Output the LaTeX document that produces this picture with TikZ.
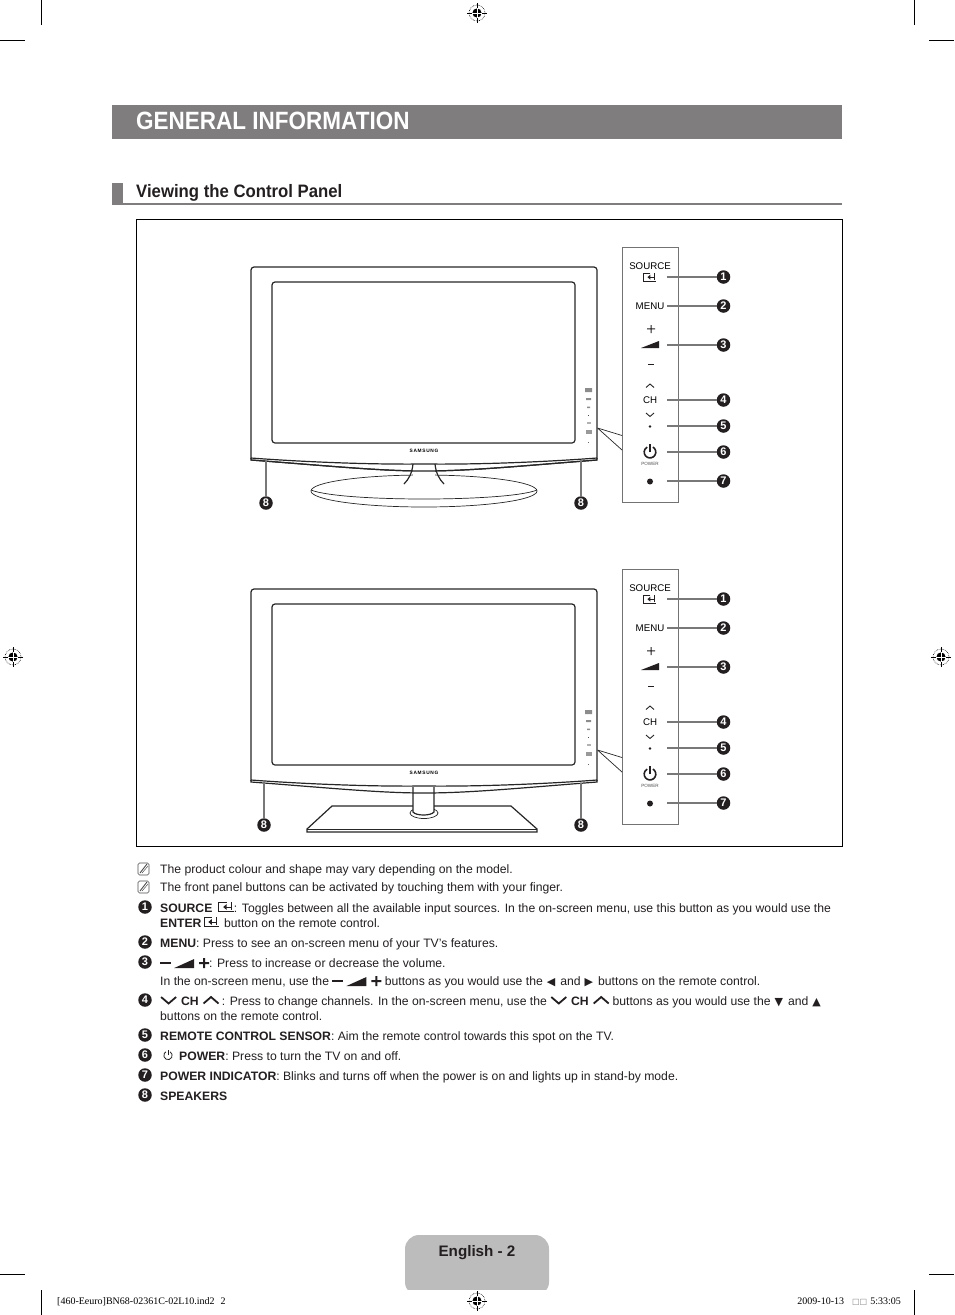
\documentclass[tikz,border=0pt]{standalone}
\usepackage{fontspec}
\setmainfont{Liberation Sans}
\newfontfamily\symfont{DejaVu Sans}
\newfontfamily\printfont{Liberation Serif}
\newfontfamily\titlefont[FakeStretch=0.90]{Liberation Sans}
\newfontfamily\sectionfont[FakeStretch=0.93]{Liberation Sans}
\newfontfamily\logofont[LetterSpace=14]{Liberation Sans}
\usepackage{tikz}
\usetikzlibrary{arrows.meta, positioning, calc}
\definecolor{bargray}{RGB}{127,125,126}
\definecolor{tabgray}{RGB}{188,188,188}
\definecolor{inkblack}{RGB}{35,31,32}
\definecolor{leadgray}{RGB}{120,120,120}
\newcommand{\wedgeic}{\tikz[x=1pt,y=1pt,baseline=0pt]\fill[inkblack] (0,-1)--(20,-1)--(20,8)--cycle;}
\newcommand{\minusic}{\tikz[x=1pt,y=1pt,baseline=0pt]\fill[inkblack] (0,3)--(11,3)--(11,4.8)--(0,4.8)--cycle;}
\newcommand{\plusic}{\tikz[x=1pt,y=1pt,baseline=0pt]\fill[inkblack] (0,3)--(4,3)--(4,-1)--(6,-1)--(6,3)--(10,3)--(10,5)--(6,5)--(6,9)--(4,9)--(4,5)--(0,5)--cycle;}
\newcommand{\downic}{\tikz[x=1pt,y=1pt,baseline=0pt]\draw[line width=1.8pt,inkblack] (0,8)--(7.5,1.5)--(15,8);}
\newcommand{\upic}{\tikz[x=1pt,y=1pt,baseline=0pt]\draw[line width=1.8pt,inkblack] (0,1.5)--(7.5,8)--(15,1.5);}
\newcommand{\enteric}{\tikz[x=1pt,y=1pt,baseline=-0.5pt]{\draw[line width=0.6pt,inkblack] (8,9)--(0,9)--(0,0)--(15,0);\draw[line width=0.8pt,inkblack] (5,4.5)--(13,4.5) (13,9.5)--(13,1.5);\fill[inkblack] (4.5,4.5)--(8,7.5)--(8,1.5)--cycle;}}
\newcommand{\poweric}[2]{\tikz[x=1pt,y=1pt,baseline=0pt]{\draw[line width=#2pt,inkblack] (60:#1) arc[start angle=60,end angle=-240,radius=#1pt];\draw[line width=#2pt,inkblack] (0,0)--(0,#1*1.35);}}
\newcommand{\keyglyph}[1]{\hspace{4pt}{\symfont\fontsize{11}{11}\selectfont #1}\hspace{5pt}}
\tikzset{
	txt/.style={anchor=base west,inner sep=0pt,text=inkblack,font=\fontsize{12.2}{13}\selectfont},
	numbadge/.style={circle,fill=inkblack,inner sep=0pt,minimum size=13.5pt,text=white,font=\fontsize{11}{11}\bfseries\selectfont},
	panellabel/.style={inner sep=0pt,text=black,font=\fontsize{9.7}{10}\selectfont},
	leadline/.style={draw=leadgray,line width=1.4pt},
	tvline/.style={draw=black!85,line width=1.2pt},
	thinline/.style={draw=black!85,line width=0.7pt},
	cropline/.style={draw=black,line width=0.6pt},
	regmark/.pic={
		\draw[line width=0.6pt,densely dotted] (0,0) circle (8);
		\fill (0,0) circle (4.6);
		\draw[line width=0.6pt] (-10,0)--(10,0) (0,-10)--(0,10);
		\draw[white,line width=0.6pt] (-4.6,0)--(4.6,0) (0,-4.6)--(0,4.6);
	}
}
\begin{document}
\begin{tikzpicture}[x=1pt,y=-1pt]
	\useasboundingbox (0,0) rectangle (954,1315);
	% crop marks
	\foreach \xa/\xb in {41/914}{
		\draw[cropline] (\xa,0)--(\xa,25) (\xb,0)--(\xb,25) (\xa,1290)--(\xa,1315) (\xb,1290)--(\xb,1315);
	}
	\draw[cropline] (0,40)--(25,40) (929,40)--(954,40) (0,1274)--(25,1274) (929,1274)--(954,1274);
	\foreach \mx/\my in {477/13, 13/657, 941/657, 477/1301}{
		\pic at (\mx,\my) {regmark};
	}
	% headings
	\fill[bargray] (112,105) rectangle (842,139);
	\node[anchor=base west,inner sep=0pt,text=white,font=\titlefont\fontsize{25}{26}\bfseries\selectfont] (title) at (136,129.5) {GENERAL INFORMATION};
	\fill[bargray] (112,183) rectangle (123,204.5);
	\draw[bargray,line width=1.5pt] (112,204)--(842,204);
	\node[anchor=base west,inner sep=0pt,text=inkblack,font=\sectionfont\fontsize{18}{19}\bfseries\selectfont] (section) at (136,197) {Viewing the Control Panel};
	\draw[black,line width=0.8pt] (136.5,219.5) rectangle (842.5,846.5);
	% the two sets
	\foreach \off/\set in {0/a,322/b}{
		\begin{scope}[yshift=-\off pt]
			\draw[tvline,rounded corners=3pt] (251,459)--(251,267)--(597,267)--(597,459);
			\draw[tvline,rounded corners=3pt] (272,443)--(272,282)--(575,282)--(575,443)--cycle;
			\draw[tvline] (251,458) .. controls (251,458) and (340,465) .. (424,464) .. controls (510,465) and (597,458) .. (597,458);
			\draw[tvline] (251,458) -- (251,460) .. controls (330,466) and (380,471) .. (424,471) .. controls (470,471) and (520,466) .. (597,460) -- (597,458);
			\node[inner sep=0pt,font=\logofont\fontsize{4.8}{5}\bfseries\selectfont] (logo\set) at (424,451) {SAMSUNG};
			% small keys on the bezel
			\fill[black!45] (585,388) rectangle (592,392) (586,398) rectangle (591,400) (587,406.5) rectangle (590,408);
			\fill[black!70] (587.5,414.5) rectangle (589,416);
			\fill[black!30] (586.5,422) rectangle (590.5,423.5);
			\fill[black!40] (585.5,430) rectangle (591.5,434);
			\fill[black!60] (587.5,442) rectangle (589,443);
			% control strip
			\draw[draw=black!55,line width=0.8pt] (622,247) rectangle (678,502);
			\draw[thinline] (597.5,428)--(622,435.5) (597.5,428)--(622,450);
			\node[panellabel] (source\set) at (650,266) {SOURCE};
			\node[panellabel] (enter\set) at (650,277) {\scalebox{0.85}{\enteric}};
			\node[panellabel] (menu\set) at (650,306.5) {MENU};
			\fill[inkblack] (647,328.4) rectangle (655,329.4) (650.5,325) rectangle (651.5,333);
			\fill[inkblack] (641,348)--(659,348)--(659,341)--cycle;
			\fill[inkblack] (647.5,364) rectangle (654,365);
			\draw[black!85,line width=0.9pt] (646,387.5)--(650,384)--(654,387.5) (646,413)--(650,416.5)--(654,413);
			\node[panellabel] (ch\set) at (650,400.5) {CH};
			\fill[inkblack] (650,426.5) circle (1.4);
			\node[inner sep=0pt] (pow\set) at (650,451.5) {\poweric{5.8}{1.6}};
			\node[inner sep=0pt,text=black!70,font=\fontsize{4.6}{5}\selectfont] (powlabel\set) at (650,464) {POWER};
			\fill[inkblack] (650,481.5) circle (3);
			\foreach \num/\yy in {1/277,2/306,3/345,4/400,5/426,6/452,7/481}{
				\coordinate (start\set\num) at (667,\yy);
				\node[numbadge] (num\set\num) at (723.5,\yy) {\num};
				\draw[leadline] (start\set\num)--(num\set\num);
			}
		\end{scope}
	}
	% stand of the upper set
	\draw[thinline,fill=white] (424,491) ellipse (113 and 16);
	\draw[thinline] (311,490) .. controls (340,502) and (508,502) .. (537,490);
	\fill[white] (413,465) rectangle (435,480);
	\draw[tvline] (413,464) .. controls (412,473) and (409,479) .. (404,484);
	\draw[tvline] (435,464) .. controls (436,473) and (439,479) .. (444,484);
	\draw[tvline] (251,460) .. controls (330,466) and (380,471) .. (424,471) .. controls (470,471) and (520,466) .. (597,460);
	% stand of the lower set
	\draw[tvline,fill=white] (332,806)--(511,806)--(537,829)--(537,832)--(307,832)--(307,829)--cycle;
	\draw[thinline] (307,829)--(537,829);
	\draw[thinline,fill=white] (424,813) ellipse (14 and 5.5);
	\fill[white] (413,794) rectangle (434,812);
	\draw[tvline] (413,787)--(413,812) .. controls (416,816) and (431,816) .. (434,812) -- (434,787);
	% speakers
	\foreach \xx/\yy/\set in {266/461/p,581/461/q,264/783/r,581/783/s}{
		\coordinate (spk\set) at (\xx,\yy);
		\node[numbadge] (spknum\set) at (\xx,\yy+42) {8};
		\draw[leadgray,line width=1.1pt] (spk\set)--(spknum\set);
	}
	% notes
	\foreach \yy in {869,887}{
		\draw[black!70,line width=0.6pt,rounded corners=1.5pt] (138,\yy-6)rectangle(149,\yy+6);
		\draw[black!70,line width=0.9pt] (140,\yy+4)--(147,\yy-5);
		\draw[black!70,line width=0.5pt] (142,\yy+4)--(148,\yy-3);
	}
	\node[txt] (note1) at (160,873.5) {The product colour and shape may vary depending on the model.};
	\node[txt] (note2) at (160,891.5) {The front panel buttons can be activated by touching them with your finger.};
	% list
	\foreach \num/\yy in {1/907,2/942,3/962,4/1000,5/1035,6/1055,7/1075,8/1095}{
		\node[numbadge] (item\num) at (145,\yy) {\num};
	}
	\node[txt] (line1) at (160,912) {\textbf{SOURCE}\hspace{6pt}\enteric: Toggles between all the available input sources. In the on-screen menu, use this button as you would use the};
	\node[txt] (line1b) at (160,927) {\textbf{ENTER}\hspace{2pt}\enteric\hspace{5pt}button on the remote control.};
	\node[txt] (line2) at (160,947) {\textbf{MENU}: Press to see an on-screen menu of your TV’s features.};
	\node[txt] (line3) at (160,967) {\minusic\hspace{3pt}\wedgeic\hspace{5pt}\plusic: Press to increase or decrease the volume.};
	\node[txt] (line3b) at (160,985) {In the on-screen menu, use the \minusic\hspace{3pt}\wedgeic\hspace{5pt}\plusic\ buttons as you would use the\keyglyph{◀}and\keyglyph{▶}buttons on the remote control.};
	\node[txt] (line4) at (160,1005) {\downic\hspace{4pt}\textbf{CH}\hspace{4pt}\upic\hspace{2.5pt}: Press to change channels. In the on-screen menu, use the \downic\hspace{4pt}\textbf{CH}\hspace{4pt}\upic\hspace{3pt}buttons as you would use the\keyglyph{▼}and\keyglyph{▲}};
	\node[txt] (line4b) at (160,1020) {buttons on the remote control.};
	\node[txt] (line5) at (160,1040) {\textbf{REMOTE CONTROL SENSOR}: Aim the remote control towards this spot on the TV.};
	\node[inner sep=0pt] (powitem) at (168,1055) {\poweric{4.2}{0.8}};
	\node[txt] (line6) at (179,1060) {\textbf{POWER}: Press to turn the TV on and off.};
	\node[txt] (line7) at (160,1080) {\textbf{POWER INDICATOR}: Blinks and turns off when the power is on and lights up in stand-by mode.};
	\node[txt] (line8) at (160,1100) {\textbf{SPEAKERS}};
	% footer
	\begin{scope}
		\clip (400,1230) rectangle (555,1289);
		\fill[tabgray,rounded corners=14pt] (405,1235) rectangle (549,1296);
	\end{scope}
	\node[anchor=base,inner sep=0pt,text=inkblack,font=\fontsize{15.2}{16}\bfseries\selectfont] (page) at (477,1256) {English - 2};
	\node[anchor=base west,inner sep=0pt,font=\printfont\fontsize{10}{11}\selectfont] (jobname) at (57,1304) {[460-Eeuro]BN68-02361C-02L10.ind2\hspace{6pt}2};
	\node[anchor=base east,inner sep=0pt,font=\printfont\fontsize{10}{11}\selectfont] (stamp) at (901,1304) {2009-10-13\hspace{8pt}{\symfont\color{black!50}\fontsize{8}{9}\selectfont □□}\hspace{3pt}5:33:05};
\end{tikzpicture}
\end{document}
